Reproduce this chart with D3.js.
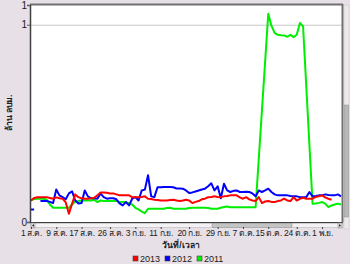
<!DOCTYPE html>
<html>
<head>
<meta charset="utf-8">
<script src="https://cdn.jsdelivr.net/npm/d3@7.9.0/dist/d3.min.js"></script>
<style>
  html, body { margin: 0; padding: 0; background: #e8e0e7; }
  svg { display: block; font-family: Tahoma, "Liberation Sans", "Noto Sans", sans-serif; }
</style>
</head>
<body>
<svg id="chart" width="350" height="264"></svg>
<script>
// ── Data (day offset from 1 Aug, value in million m³) ────────────────────────

const seriesNames = ['2013', '2012', '2011'];
const seriesColors = ['#ff0000', '#0000ff', '#00ee00'];

const values2013 = [
  0.109, 0.122, 0.125, 0.126, 0.126, 0.126, 0.122, 0.118, 0.125, 0.120,
  0.118, 0.099, 0.042, 0.093, 0.140, 0.126, 0.120, 0.118, 0.118, 0.120,
  0.123, 0.135, 0.150, 0.150, 0.148, 0.145, 0.145, 0.140, 0.135, 0.135,
  0.135, 0.135, 0.126, 0.126, 0.126, 0.127, 0.130, 0.118, 0.117, 0.113,
  0.112, 0.109, 0.109, 0.109, 0.112, 0.113, 0.109, 0.106, 0.109, 0.113,
  0.109, 0.096, 0.102, 0.106, 0.115, 0.118, 0.126, 0.127, 0.130, 0.127,
  0.126, 0.130, 0.132, 0.135, 0.135, 0.135, 0.125, 0.118, 0.126, 0.115,
  0.109, 0.106, 0.126, 0.096, 0.104, 0.106, 0.102, 0.101, 0.106, 0.109,
  0.118, 0.109, 0.106, 0.126, 0.109, 0.117, 0.123, 0.118, 0.118, 0.118,
  0.127, 0.130, 0.135, 0.125, 0.118, 0.113
];

const values2012 = [
  0.064, 0.064, null, 0.106, 0.106, 0.106, 0.102, 0.096, 0.165, 0.135,
  0.126, 0.115, 0.145, 0.155, 0.109, 0.094, 0.096, 0.160, 0.130, 0.120,
  0.120, 0.118, 0.144, 0.126, 0.118, 0.120, 0.120, 0.115, 0.094, 0.084,
  0.101, 0.084, 0.118, 0.126, 0.109, 0.160, 0.164, 0.237, 0.130, 0.126,
  0.176, 0.176, 0.177, 0.177, 0.177, 0.176, 0.170, 0.170, 0.169, 0.160,
  0.147, 0.150, 0.155, 0.160, 0.165, 0.169, 0.181, 0.196, 0.160, 0.181,
  0.120, 0.194, 0.160, 0.152, 0.158, 0.160, 0.152, 0.152, 0.153, 0.152,
  0.145, 0.130, 0.160, 0.152, 0.160, 0.169, 0.152, 0.140, 0.135, 0.135,
  0.135, 0.135, 0.132, 0.130, 0.130, 0.126, 0.126, 0.126, 0.152, 0.130,
  0.132, 0.135, 0.135, 0.140, 0.137, 0.135, 0.135, 0.140, 0.130
];

// 2011 has a few missing days around the October spike
const days2011 = [
  0, 1, 2, 3, 4, 5, 6, 7, 8, 9, 10, 11, 12, 13, 14, 15, 16, 17, 18, 19,
  20, 21, 22, 23, 24, 25, 26, 27, 28, 29, 30, 31, 32, 33, 34, 35, 36, 37, 38, 39,
  40, 41, 42, 43, 44, 45, 46, 47, 48, 49, 50, 51, 52, 53, 54, 55, 56, 57, 58, 59,
  60, 61, 62, 63, 64, 65, 66, 67, 68, 69, 70, 71,
  75, 76, 77, 78, 79, 80, 81, 82, 83, 84, 85, 86,
  89, 90, 91, 92, 93, 94, 95, 96, 97, 98
];
const values2011 = [
  0.109, 0.117, 0.118, 0.118, 0.118, 0.113, 0.089, 0.072, 0.072, 0.072,
  0.072, 0.072, 0.072, 0.089, 0.104, 0.106, 0.109, 0.109, 0.109, 0.109,
  0.113, 0.101, 0.109, 0.107, 0.107, 0.107, 0.107, 0.107, 0.101, 0.101,
  0.101, 0.094, 0.089, 0.072, 0.064, 0.053, 0.045, 0.067, 0.067, 0.067,
  0.067, 0.067, 0.067, 0.071, 0.072, 0.067, 0.067, 0.067, 0.067, 0.067,
  0.071, 0.072, 0.072, 0.072, 0.072, 0.072, 0.071, 0.067, 0.067, 0.067,
  0.072, 0.076, 0.079, 0.075, 0.075, 0.075, 0.075, 0.075, 0.075, 0.075,
  0.075, 0.075,
  1.056, 0.995, 0.959, 0.949, 0.947, 0.946, 0.939, 0.949, 0.937, 0.949,
  1.009, 0.991,
  0.093, 0.094, 0.097, 0.101, 0.093, 0.075, 0.084, 0.089, 0.093, 0.089
];

const tickDays = [0, 8, 16, 25, 33, 41, 50, 59, 67, 75, 84, 92];
const tickLabels = [
  '1 ส.ค.', '9 ส.ค.', '17 ส.ค.', '26 ส.ค.', '3 ก.ย.', '11 ก.ย.',
  '20 ก.ย.', '29 ก.ย.', '7 ต.ค.', '15 ต.ค.', '24 ต.ค.', '1 พ.ย.'
];
const yTicks = [0, 1, 1.1];

// ── Layout ───────────────────────────────────────────────────────────────────

const svg = d3.select('#chart');
const plot = { left: 30, right: 342, top: 5, bottom: 222 };

const x = d3.scaleLinear().domain([-0.3, 98.3]).range([plot.left, plot.right]);
const y = d3.scaleLinear().domain([0, 1.1]).range([plot.bottom, plot.top]);

svg.append('rect')
  .attr('width', 350).attr('height', 264)
  .attr('fill', '#e8e0e7');

svg.append('rect')
  .attr('x', plot.left).attr('y', plot.top)
  .attr('width', plot.right - plot.left).attr('height', plot.bottom - plot.top)
  .attr('fill', '#ffffff');

// gridline at 1
svg.append('line')
  .attr('x1', plot.left).attr('x2', plot.right)
  .attr('y1', y(1) + 0.5).attr('y2', y(1) + 0.5)
  .attr('stroke', '#c8c8c8');

// ── Series ───────────────────────────────────────────────────────────────────

const series = [
  { name: seriesNames[0], color: seriesColors[0], pts: values2013.map((v, i) => [i, v]) },
  { name: seriesNames[1], color: seriesColors[1], pts: values2012.map((v, i) => [i, v]) },
  { name: seriesNames[2], color: seriesColors[2], pts: values2011.map((v, i) => [days2011[i], v]) },
];

const line = d3.line()
  .defined((d) => d[1] != null)
  .x((d) => x(d[0]))
  .y((d) => y(d[1]));

// draw 2011 first, then 2012, then 2013 on top
svg.append('g')
  .selectAll('path')
  .data([series[2], series[1], series[0]])
  .join('path')
  .attr('d', (d) => line(d.pts))
  .attr('fill', 'none')
  .attr('stroke', (d) => d.color)
  .attr('stroke-width', 2)
  .attr('stroke-linejoin', 'round');

// ── Frame ────────────────────────────────────────────────────────────────────

svg.append('line')
  .attr('x1', plot.left).attr('x2', plot.right + 1)
  .attr('y1', plot.top - 0.5).attr('y2', plot.top - 0.5)
  .attr('stroke', '#707070').attr('stroke-width', 2);
svg.append('line')
  .attr('x1', plot.right + 0.5).attr('x2', plot.right + 0.5)
  .attr('y1', plot.top - 1).attr('y2', plot.bottom)
  .attr('stroke', '#707070').attr('stroke-width', 2);

// vertical scrollbar on the right
svg.append('rect')
  .attr('x', 344).attr('y', plot.top).attr('width', 5).attr('height', plot.bottom - plot.top + 7)
  .attr('fill', '#ece8ec').attr('stroke', '#c8c4c8').attr('stroke-width', 0.5);
svg.append('rect')
  .attr('x', 344.5).attr('y', 105).attr('width', 4).attr('height', 112)
  .attr('fill', '#b8b8b8').attr('stroke', '#909090').attr('stroke-width', 0.5);

// y axis
const yAxis = svg.append('g')
  .attr('transform', `translate(${plot.left},0)`)
  .call(d3.axisLeft(y).tickValues(yTicks).tickSize(3).tickFormat((d) => d3.format('.0f')(d)));
yAxis.select('.domain').attr('stroke', '#404040').attr('stroke-width', 1.5);
yAxis.selectAll('.tick line').attr('stroke', '#606060');
yAxis.selectAll('.tick text').attr('font-size', 10).attr('fill', '#202020').attr('x', -3);

// bottom axis line
svg.append('line')
  .attr('x1', plot.left).attr('x2', plot.right + 1)
  .attr('y1', plot.bottom + 0.5).attr('y2', plot.bottom + 0.5)
  .attr('stroke', '#404040');

// horizontal scrollbar
const sb = svg.append('g');
sb.append('rect')
  .attr('x', plot.left + 1).attr('y', 223.5).attr('width', plot.right - plot.left).attr('height', 4)
  .attr('fill', '#f4f2f4').attr('stroke', '#b0b0b0').attr('stroke-width', 0.5);
sb.append('rect')
  .attr('x', 212).attr('y', 223.5).attr('width', 80).attr('height', 4)
  .attr('fill', '#c4c4c4').attr('stroke', '#909090').attr('stroke-width', 0.5);
sb.append('rect')
  .attr('x', 31).attr('y', 223).attr('width', 4).attr('height', 5)
  .attr('fill', '#d8d8d8').attr('stroke', '#808080').attr('stroke-width', 0.5);
sb.append('rect')
  .attr('x', 338).attr('y', 223).attr('width', 4).attr('height', 5)
  .attr('fill', '#d8d8d8').attr('stroke', '#808080').attr('stroke-width', 0.5);
sb.append('path').attr('d', 'M34,224.3 L32,225.5 L34,226.7 Z').attr('fill', '#202020');
sb.append('path').attr('d', 'M339,224.3 L341,225.5 L339,226.7 Z').attr('fill', '#202020');

// x axis ticks + labels below the scrollbar
const xAxis = svg.append('g')
  .attr('transform', 'translate(0,227)')
  .call(d3.axisBottom(x).tickValues(tickDays).tickSize(2).tickPadding(1)
    .tickFormat((d, i) => tickLabels[i]));
xAxis.select('.domain').remove();
xAxis.selectAll('.tick line').attr('stroke', '#404040');
xAxis.selectAll('.tick text')
  .attr('font-size', 8.5).attr('fill', '#202020')
  .attr('letter-spacing', -0.3);

// axis titles
svg.append('text')
  .attr('x', 181).attr('y', 248)
  .attr('text-anchor', 'middle')
  .attr('font-size', 8.5).attr('font-weight', 'bold').attr('fill', '#202020')
  .text('วันที่/เวลา');

svg.append('text')
  .attr('transform', 'translate(12,113) rotate(-90)')
  .attr('text-anchor', 'middle')
  .attr('font-size', 8.5).attr('font-weight', 'bold').attr('fill', '#202020')
  .text('ล้าน ลบม.');

// ── Legend ───────────────────────────────────────────────────────────────────

const legendX = [133, 165, 197];
const legend = svg.append('g')
  .selectAll('g')
  .data(series)
  .join('g')
  .attr('transform', (d, i) => `translate(${legendX[i]},256)`);
legend.append('rect')
  .attr('width', 5).attr('height', 5)
  .attr('fill', (d) => d.color)
  .attr('stroke', '#404040').attr('stroke-width', 0.6);
legend.append('text')
  .attr('x', 7).attr('y', 5.5)
  .attr('font-size', 9).attr('fill', '#202020')
  .text((d) => d.name);
</script>
</body>
</html>
